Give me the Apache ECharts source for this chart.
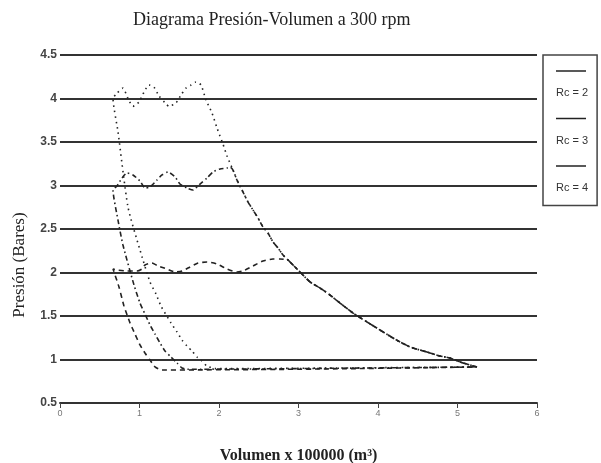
<!DOCTYPE html>
<html lang="es">
<head>
<meta charset="UTF-8">
<title>Diagrama P-V</title>
<style>
  *{margin:0;padding:0;box-sizing:border-box;}
  body{background:#fff;}
  #view{width:601px;height:463px;}
</style>
</head>
<body>
<div id="view"></div>
<script src="https://cdn.jsdelivr.net/npm/echarts@6/dist/echarts.min.js"></script>
<script>
const etiquetasY = ['0.5', '1', '1.5', '2', '2.5', '3', '3.5', '4', '4.5'];
const nombres = ['Rc = 2', 'Rc = 3', 'Rc = 4'];

// compresion comun a las tres curvas
const compresion = [[5.245,0.914],[5.069,0.96],[4.906,1.017],[4.78,1.04],[4.616,1.086],[4.403,1.144],[4.189,1.247],[4.025,1.339],[3.862,1.431],[3.686,1.534],[3.522,1.649],[3.396,1.741],[3.27,1.822],[3.145,1.891],[3.019,2.006],[2.893,2.121],[2.805,2.201],[2.742,2.282],[2.679,2.351],[2.616,2.454],[2.553,2.523],[2.491,2.626],[2.428,2.718],[2.365,2.81],[2.302,2.925],[2.226,3.063],[2.176,3.178],[2.101,3.339],[2.05,3.477],[1.975,3.661],[1.912,3.833],[1.836,3.983]];

const descarga2 = [[2.868,2.144],[2.767,2.155],[2.679,2.155],[2.553,2.132],[2.428,2.075],[2.302,2.017],[2.226,2.006],[2.101,2.04],[1.975,2.098],[1.849,2.121],[1.736,2.109],[1.635,2.063],[1.535,2.017],[1.447,2.006],[1.346,2.04],[1.233,2.075],[1.157,2.109],[1.069,2.086],[1.031,2.04],[0.969,2.017],[0.843,2.017],[0.717,2.029],[0.667,2.04]];
const reexp2 = [[0.742,1.833],[0.805,1.615],[0.881,1.42],[0.943,1.293],[1.006,1.167],[1.069,1.075],[1.132,0.994],[1.195,0.914]];
const admision2 = [[1.283,0.879],[3.2,0.89],[5.245,0.914]];

const descarga3 = [[2.14,3.21],[2.101,3.201],[2.013,3.19],[1.925,3.155],[1.849,3.086],[1.761,3.017],[1.673,2.948],[1.597,2.971],[1.509,3.017],[1.447,3.098],[1.358,3.155],[1.283,3.121],[1.22,3.063],[1.132,2.983],[1.069,2.971],[1.006,3.052],[0.918,3.121],[0.843,3.144],[0.78,3.086],[0.717,2.994],[0.667,2.948]];
const reexp3 = [[0.73,2.6],[0.792,2.316],[0.931,1.856],[1.006,1.649],[1.069,1.523],[1.132,1.397],[1.195,1.293],[1.258,1.19],[1.321,1.098],[1.396,1.029],[1.472,0.96],[1.535,0.902]];
const admision3 = [[1.6,0.888],[5.245,0.914]];

const descarga4 = [[1.774,4.155],[1.711,4.19],[1.648,4.155],[1.585,4.12],[1.522,4.04],[1.459,3.95],[1.371,3.91],[1.321,3.95],[1.245,4.03],[1.182,4.13],[1.119,4.155],[1.057,4.075],[0.994,3.96],[0.918,3.91],[0.855,4.0],[0.792,4.12],[0.717,4.06],[0.667,4.0]];
const reexp4 = [[0.73,3.615],[0.855,2.753],[1.006,2.259],[1.132,1.891],[1.208,1.753],[1.27,1.615],[1.396,1.42],[1.472,1.316],[1.535,1.224],[1.597,1.155],[1.66,1.098],[1.723,1.029],[1.786,0.983],[1.849,0.925]];
const admision4 = [[1.95,0.895],[5.245,0.914]];

function ciclo(pmax, desc, reexp, adm) {
  return compresion.filter(p => p[1] <= pmax).concat(desc, reexp, adm);
}

const curvas = [
  {name: nombres[0], data: ciclo(2.13, descarga2, reexp2, admision2), dash: [5, 4]},
  {name: nombres[1], data: ciclo(3.2, descarga3, reexp3, admision3), dash: [5, 3, 1.5, 3]},
  {name: nombres[2], data: ciclo(5, descarga4, reexp4, admision4), dash: [1.5, 4]}
];

const serif = 'Liberation Serif';
let option = {
  animation: false,
  backgroundColor: '#fff',
  title: {
    text: 'Diagrama Presión-Volumen a 300 rpm',
    left: 128, top: 6,
    textStyle: {fontFamily: serif, fontSize: 18, fontWeight: 'normal', color: '#222'}
  },
  legend: {
    orient: 'vertical',
    left: 543, top: 55,
    padding: [11, 9, 12, 8],
    itemGap: 15,
    icon: 'none',
    itemWidth: 0, itemHeight: 0,
    selectedMode: false,
    borderColor: '#444', borderWidth: 1.5,
    data: nombres,
    formatter: n => '{ln|\u00a0}\n{t|' + n + '}',
    textStyle: {
      rich: {
        ln: {width: 30, height: 1.5, lineHeight: 24, fontSize: 10, color: 'rgba(0,0,0,0)', backgroundColor: '#222'},
        t: {fontFamily: 'Liberation Sans', fontSize: 11, lineHeight: 20, color: '#333'}
      }
    }
  },
  grid: {left: 60, right: 64, top: 55, bottom: 60, outerBoundsMode: 'none', containLabel: false},
  xAxis: {
    type: 'value', min: 0, max: 6, interval: 1,
    name: 'Volumen x 100000 (m³)',
    nameLocation: 'middle', nameGap: 45,
    nameTextStyle: {fontFamily: serif, fontSize: 16, fontWeight: 'bold', color: '#222'},
    axisLine: {lineStyle: {color: '#333', width: 2}},
    axisTick: {length: 5, lineStyle: {color: '#444'}},
    axisLabel: {fontSize: 9, color: '#777', margin: 6},
    splitLine: {show: false}
  },
  yAxis: {
    type: 'value', min: 0.5, max: 4.5, interval: 0.5,
    name: 'Presión (Bares)',
    nameLocation: 'middle', nameGap: 32,
    nameTextStyle: {fontFamily: serif, fontSize: 17, color: '#222', padding: [0, 72, 0, 0]},
    axisLine: {show: false},
    axisTick: {show: false},
    axisLabel: {
      margin: 3, fontSize: 12, fontWeight: 'bold', color: '#444',
      fontFamily: 'Liberation Sans',
      formatter: v => etiquetasY[Math.round((v - 0.5) * 2)]
    },
    splitLine: {lineStyle: {color: '#333', width: 2}}
  },
  series: curvas.map(c => ({
    name: c.name,
    type: 'line',
    data: c.data,
    showSymbol: false,
    smooth: 0.2,
    lineStyle: {color: '#222', width: 1.6, type: c.dash},
    itemStyle: {color: '#222'}
  }))
};

var myChart = echarts.init(document.getElementById('view'));
myChart.setOption(option);
</script>
</body>
</html>
